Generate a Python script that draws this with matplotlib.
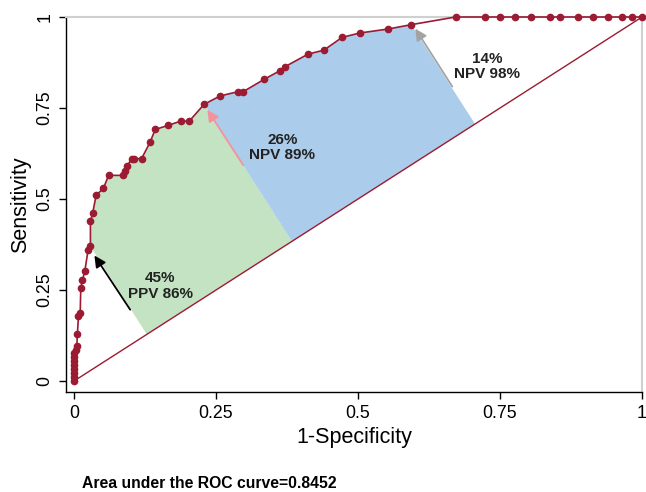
import matplotlib
matplotlib.use("Agg")
import matplotlib.pyplot as plt
import numpy as np

plt.rcParams['font.family'] = ['Liberation Sans', 'DejaVu Sans']

# ROC curve points (1-specificity, sensitivity)
fpr = [0, 0, 0, 0, 0, 0, 0, 0,
       0.004, 0.005, 0.006, 0.008, 0.011,
       0.012, 0.015, 0.019, 0.025, 0.029,
       0.029, 0.033, 0.039, 0.052, 0.061,
       0.087, 0.090, 0.093, 0.102, 0.106, 0.119,
       0.134, 0.143, 0.165, 0.188, 0.203,
       0.229, 0.257, 0.289, 0.298, 0.335,
       0.362, 0.371, 0.412, 0.440, 0.472,
       0.503, 0.553, 0.594,
       0.672, 0.723, 0.750, 0.777, 0.805, 0.838, 0.855, 0.887,
       0.914, 0.941, 0.965, 0.982, 1.0]
tpr = [0, 0.011, 0.022, 0.033, 0.044, 0.055, 0.066, 0.077,
       0.085, 0.095, 0.128, 0.179, 0.186,
       0.255, 0.278, 0.301, 0.361, 0.370,
       0.439, 0.462, 0.510, 0.530, 0.565,
       0.565, 0.577, 0.590, 0.611, 0.611, 0.611,
       0.656, 0.691, 0.702, 0.714, 0.714,
       0.760, 0.783, 0.795, 0.795, 0.829,
       0.852, 0.863, 0.898, 0.909, 0.944,
       0.956, 0.967, 0.979,
       1, 1, 1, 1, 1, 1, 1, 1,
       1, 1, 1, 1, 1]

# cut-off points that bound the shaded bands (indices into the curve)
cut_idx = [17, 34, 46]
band_labels = ['45%\nPPV 86%', '26%\nNPV 89%', '14%\nNPV 98%']
band_colors = ['#c3e3c3', '#abcdeb']
auc = 0.8452

fpr = np.array(fpr)
tpr = np.array(tpr)

fig = plt.figure(figsize=(6.46, 4.92), dpi=100)
ax = fig.add_axes([66 / 646, 100 / 492, 576 / 646, 375 / 492])
ax.set_xlim(-0.014, 1.0)
ax.set_ylim(-0.03, 1.0)

# foot of the perpendicular (in screen space) from a curve point to the diagonal
fig.canvas.draw()
def foot(i):
    p = ax.transData.transform((fpr[i], tpr[i]))
    o = ax.transData.transform((0, 0))
    d = ax.transData.transform((1, 1)) - o
    t = np.dot(p - o, d) / np.dot(d, d)
    return t, t

for k in range(2):
    a, b = cut_idx[k], cut_idx[k + 1]
    qa, qb = foot(a), foot(b)
    xs = [qa[0]] + list(fpr[a:b + 1]) + [qb[0]]
    ys = [qa[1]] + list(tpr[a:b + 1]) + [qb[1]]
    ax.fill(xs, ys, color=band_colors[k], lw=0, zorder=1)

red = '#9b1b32'
ax.plot([0, 1], [0, 1], color=red, lw=1.0, zorder=2)
ax.plot(fpr, tpr, color=red, lw=1.2, marker='o', ms=4.5, zorder=3, clip_on=False)

# arrows pointing at the cut-off points
arrow_colors = ['black', '#f4929c', '#a3a3a3']
tails = [(0.099, 0.196), (0.298, 0.593), (0.666, 0.809)]
heads = [(0.036, 0.345), (0.235, 0.745), (0.601, 0.968)]
for c, t, h in zip(arrow_colors, tails, heads):
    ax.annotate('', xy=h, xytext=t,
                arrowprops=dict(arrowstyle='-|>', color=c, lw=1.3,
                                mutation_scale=17, shrinkA=0, shrinkB=0),
                zorder=4)

label_pos = [(0.152, 0.262), (0.367, 0.642), (0.728, 0.864)]
for (x, y), s in zip(label_pos, band_labels):
    ax.text(x, y, s, ha='center', va='center', fontsize=11, fontweight='bold',
            color='#222222', linespacing=1.15, zorder=5)

ticks = [0, 0.25, 0.5, 0.75, 1]
tick_labels = ['0', '0.25', '0.5', '0.75', '1']
ax.set_xticks(ticks)
ax.set_xticklabels(tick_labels)
ax.set_yticks(ticks)
ax.set_yticklabels(tick_labels, rotation=90, va='center')
ax.tick_params(direction='out', length=5, width=1, labelsize=12.8, pad=4)
ax.set_xlabel('1-Specificity', fontsize=15.5, labelpad=4)
ax.set_ylabel('Sensitivity', fontsize=15.5, labelpad=4)

for s in ['top', 'right']:
    ax.spines[s].set_color('#d0d0d0')
    ax.spines[s].set_linewidth(1.5)
for s in ['left', 'bottom']:
    ax.spines[s].set_linewidth(1.0)

fig.text(82 / 646, 1 - 483 / 492, 'Area under the ROC curve=%.4f' % auc,
         fontsize=11.3, fontweight='bold', va='center', ha='left')

fig.savefig('out.png', dpi=100)
